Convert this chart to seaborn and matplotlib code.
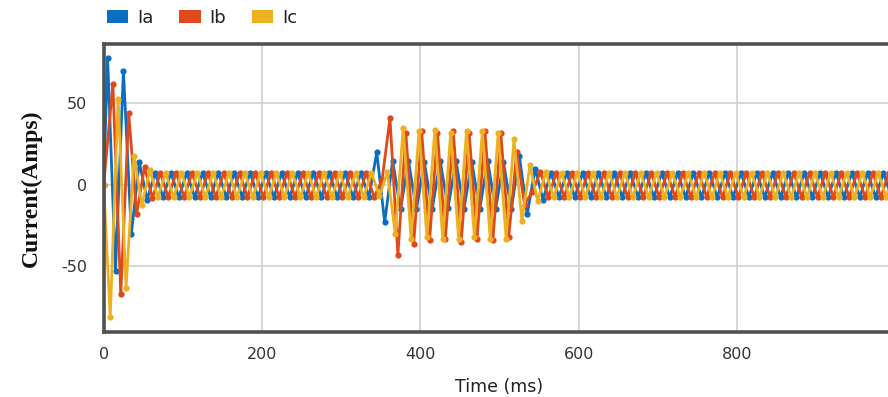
import numpy as np
import pandas as pd
import matplotlib
matplotlib.use("Agg")
import matplotlib.pyplot as plt
import seaborn as sns
from matplotlib.patches import Patch

# ---------------- data ----------------
phases = ["Ia", "Ib", "Ic"]
colors = ["#0B6EC0", "#DE4A1C", "#EDB120"]

# time of first waveform vertex of each phase (ms); vertices every half cycle (10 ms)
first_vertex_ms = [5.0, 11.67, 8.33]
half_cycle_ms = 10.0
n_vertices = 100

# inrush peaks (first vertices of each phase)
ia_inrush = [78, -53, 70, -30, 14, -9]
ib_inrush = [62, -67, 44, -18, 11, -8]
ic_inrush = [-81, 53, -63, 18, -12, 9]

# fault-period peaks (starting at vertex 34, i.e. ~345 ms)
fault_start_vertex = 34
ia_fault = [20, -23, 15, -15, 15, -15, 14, -15, 15, -14, 15, -15, 14, -15,
            15, -15, 14, -15, 18, -18, 10, -9]
ib_fault = [3, 41, -43, 32, -36, 33, -34, 32, -33, 33, -35, 32, -33, 33,
            -34, 32, -32, 20, -12, -4, 8]
ic_fault = [-7, 8, -30, 35, -33, 33, -32, 34, -33, 32, -33, 33, -32, 33,
            -33, 32, -33, 28, -22, 12, -10, 8]

steady_amp = [7.5, 7.5, 7.5]

inrush = [ia_inrush, ib_inrush, ic_inrush]
fault = [ia_fault, ib_fault, ic_fault]


def vertices(inr, flt, amp):
    vals = list(inr)
    while len(vals) < fault_start_vertex:
        vals.append(-np.sign(vals[-1]) * amp)
    vals += list(flt)
    while len(vals) < n_vertices:
        vals.append(-np.sign(vals[-1]) * amp)
    return vals


rows = []
for ph, t0, inr, flt, amp in zip(phases, first_vertex_ms, inrush, fault, steady_amp):
    vals = vertices(inr, flt, amp)
    rows.append((ph, 0.0, 0.0))
    for k, v in enumerate(vals):
        rows.append((ph, t0 + half_cycle_ms * k, v))
df = pd.DataFrame(rows, columns=["phase", "time", "current"])

# ---------------- plot ----------------
sns.set_style("white")
plt.rcParams["font.family"] = ["DejaVu Sans"]
plt.rcParams["axes.unicode_minus"] = False

fig = plt.figure(figsize=(8.88, 3.97), dpi=100)
ax = fig.add_axes([0.1167, 0.1637, 0.8916, 0.7255])

sns.lineplot(data=df, x="time", y="current", hue="phase", palette=colors,
             sort=False, estimator=None, lw=2.0, marker="o", markersize=4.5,
             markeredgewidth=0, legend=False, ax=ax)

ax.set_xlim(0, 1000)
ax.set_ylim(-90.2, 86.5)
ax.set_xticks([0, 200, 400, 600, 800])
ax.set_yticks([-50, 0, 50])
ax.grid(True, color="#d4d4d4", lw=1.3)
ax.set_axisbelow(True)
for s in ["left", "bottom", "top", "right"]:
    ax.spines[s].set_color("#505050")
    ax.spines[s].set_linewidth(2.6)
ax.tick_params(axis="both", length=3, width=1, color="#505050",
               labelsize=11.5, labelcolor="#333333")
ax.tick_params(axis="x", pad=8)
ax.tick_params(axis="y", pad=9)

ax.set_xlabel("Time (ms)", fontsize=12.5, color="#222222", labelpad=11)
ax.set_ylabel("Current(Amps)", fontsize=17, fontweight="bold",
              family="Liberation Serif", color="#111111", labelpad=14)

handles = [Patch(facecolor=c, edgecolor="none", label=p) for p, c in zip(phases, colors)]
fig.legend(handles=handles, loc="center left", bbox_to_anchor=(0.12, 0.955),
           ncol=3, frameon=False, fontsize=13, handlelength=1.2, handleheight=0.75,
           handletextpad=0.5, columnspacing=1.4, borderaxespad=0, borderpad=0,
           labelcolor="#222222")

fig.savefig("out.png", dpi=100)
